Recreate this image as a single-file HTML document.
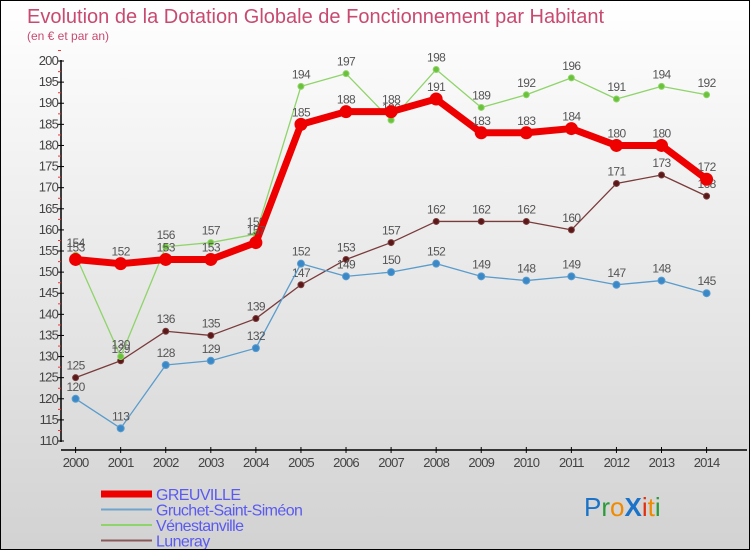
<!DOCTYPE html>
<html><head><meta charset="utf-8">
<style>
html,body{margin:0;padding:0}
body{width:750px;height:550px;overflow:hidden;font-family:"Liberation Sans","DejaVu Sans",sans-serif}
#wrap{position:relative;width:748px;height:548px;border:1px solid #000;background:linear-gradient(#ffffff,#d2d2d2)}
</style></head>
<body>
<div id="wrap">
<svg id="chart" width="748" height="548" xmlns="http://www.w3.org/2000/svg">
<text x="26" y="22" font-size="20" fill="#c84a70">Evolution de la Dotation Globale de Fonctionnement par Habitant</text>
<text x="26" y="39" font-size="12" fill="#c84a70">(en € et par an)</text>
<g id="axes"></g>
<g id="series"></g>
<g id="legend"></g>
<text x="583" y="515" font-size="26"><tspan fill="#1a73c8">P</tspan><tspan fill="#2a9a3a">r</tspan><tspan fill="#f08a00">o</tspan><tspan fill="#1a73c8" font-weight="bold">X</tspan><tspan fill="#e03010">i</tspan><tspan fill="#f08a00">t</tspan><tspan fill="#2a9a3a">i</tspan></text>
</svg>
</div>
<script>
const years = [2000,2001,2002,2003,2004,2005,2006,2007,2008,2009,2010,2011,2012,2013,2014];
const greuville = [153,152,153,153,157,185,188,188,191,183,183,184,180,180,172];
const gruchet = [120,113,128,129,132,152,149,150,152,149,148,149,147,148,145];
const venestanville = [154,130,156,157,159,194,197,186,198,189,192,196,191,194,192];
const luneray = [125,129,136,135,139,147,153,157,162,162,162,160,171,173,168];
const yTicks = [110,115,120,125,130,135,140,145,150,155,160,165,170,175,180,185,190,195,200];

const NS="http://www.w3.org/2000/svg";
const X0=74.6, DX=45.07, Y0=440, YMIN=110, PY=4.222;
function xs(i){return X0+i*DX;}
function ys(v){return Y0-(v-YMIN)*PY;}
function mk(tag,attrs,parent){const e=document.createElementNS(NS,tag);for(const k in attrs)e.setAttribute(k,attrs[k]);parent.appendChild(e);return e;}

const axes=document.getElementById('axes');
let a=mk('line',{x1:60,y1:ys(200)-1,x2:60,y2:ys(110)+1,stroke:'#000','stroke-width':1.5},axes);


yTicks.forEach(v=>{
  const y=ys(v);
  const t=mk('line',{x1:57,y1:y,x2:63,y2:y,stroke:'#000'},axes);
  
  
  const m=mk('line',{x1:57,y1:y-10.5,x2:60,y2:y-10.5,stroke:'#e33'},axes);
  
  
  const l=mk('text',{x:57,y:y+4,'text-anchor':'end','font-size':13,fill:'#444','letter-spacing':'-0.8'},axes);
  l.textContent=v;
  
  
});
a=mk('line',{x1:60,y1:449,x2:746,y2:449,stroke:'#000','stroke-width':1.5},axes);


years.forEach((yr,i)=>{
  const x=xs(i);
  const t=mk('line',{x1:x,y1:446,x2:x,y2:452,stroke:'#000'},axes);
  
  
  const l=mk('text',{x:x,y:466,'text-anchor':'middle','font-size':13,fill:'#444','letter-spacing':'-0.8'},axes);
  l.textContent=yr;
  
  
});

const seriesG=document.getElementById('series');
function drawSeries(name,data,color,width,r,dot){
  const g=mk('g',{},seriesG);
  
  
  const pts=data.map((v,i)=>xs(i)+','+ys(v)).join(' ');
  const pl=mk('polyline',{points:pts,fill:'none',stroke:color,'stroke-width':width,'stroke-linejoin':'round'},g);
  
  
  data.forEach((v,i)=>{
    const c=mk('circle',{cx:xs(i),cy:ys(v),r:r,fill:dot,stroke:color,'stroke-width':1},g);
    
    
    const t=mk('text',{x:xs(i),y:ys(v)-8,'text-anchor':'middle','font-size':12,fill:'#555','letter-spacing':'-0.6'},g);
    t.textContent=v;
    
    
  });
}
drawSeries('luneray',luneray,'#7a3b3b',1.3,3,'#5a1818');
drawSeries('venestanville',venestanville,'#8fd46a',1.3,3,'#6ac23a');
drawSeries('gruchet',gruchet,'#5a9ccc',1.3,3.5,'#3a88c8');
drawSeries('greuville',greuville,'#ee0000',7,6,'#ee0000');

const legend=document.getElementById('legend');
const leg=[['GREUVILLE','#ee0000',7],['Gruchet-Saint-Siméon','#6fa4cc',2],['Vénestanville','#8fd46a',2],['Luneray','#8a5a5a',2]];
leg.forEach((d,i)=>{
  const y=493+i*15.5;
  const g=mk('g',{},legend);
  
  
  mk('line',{x1:100,y1:y,x2:151,y2:y,stroke:d[1],'stroke-width':d[2]},g);
  const t=mk('text',{x:155,y:y+6,'font-size':16,fill:'#5a5af0','letter-spacing':'-0.6'},g);
  t.textContent=d[0];
});
</script>
</body></html>
